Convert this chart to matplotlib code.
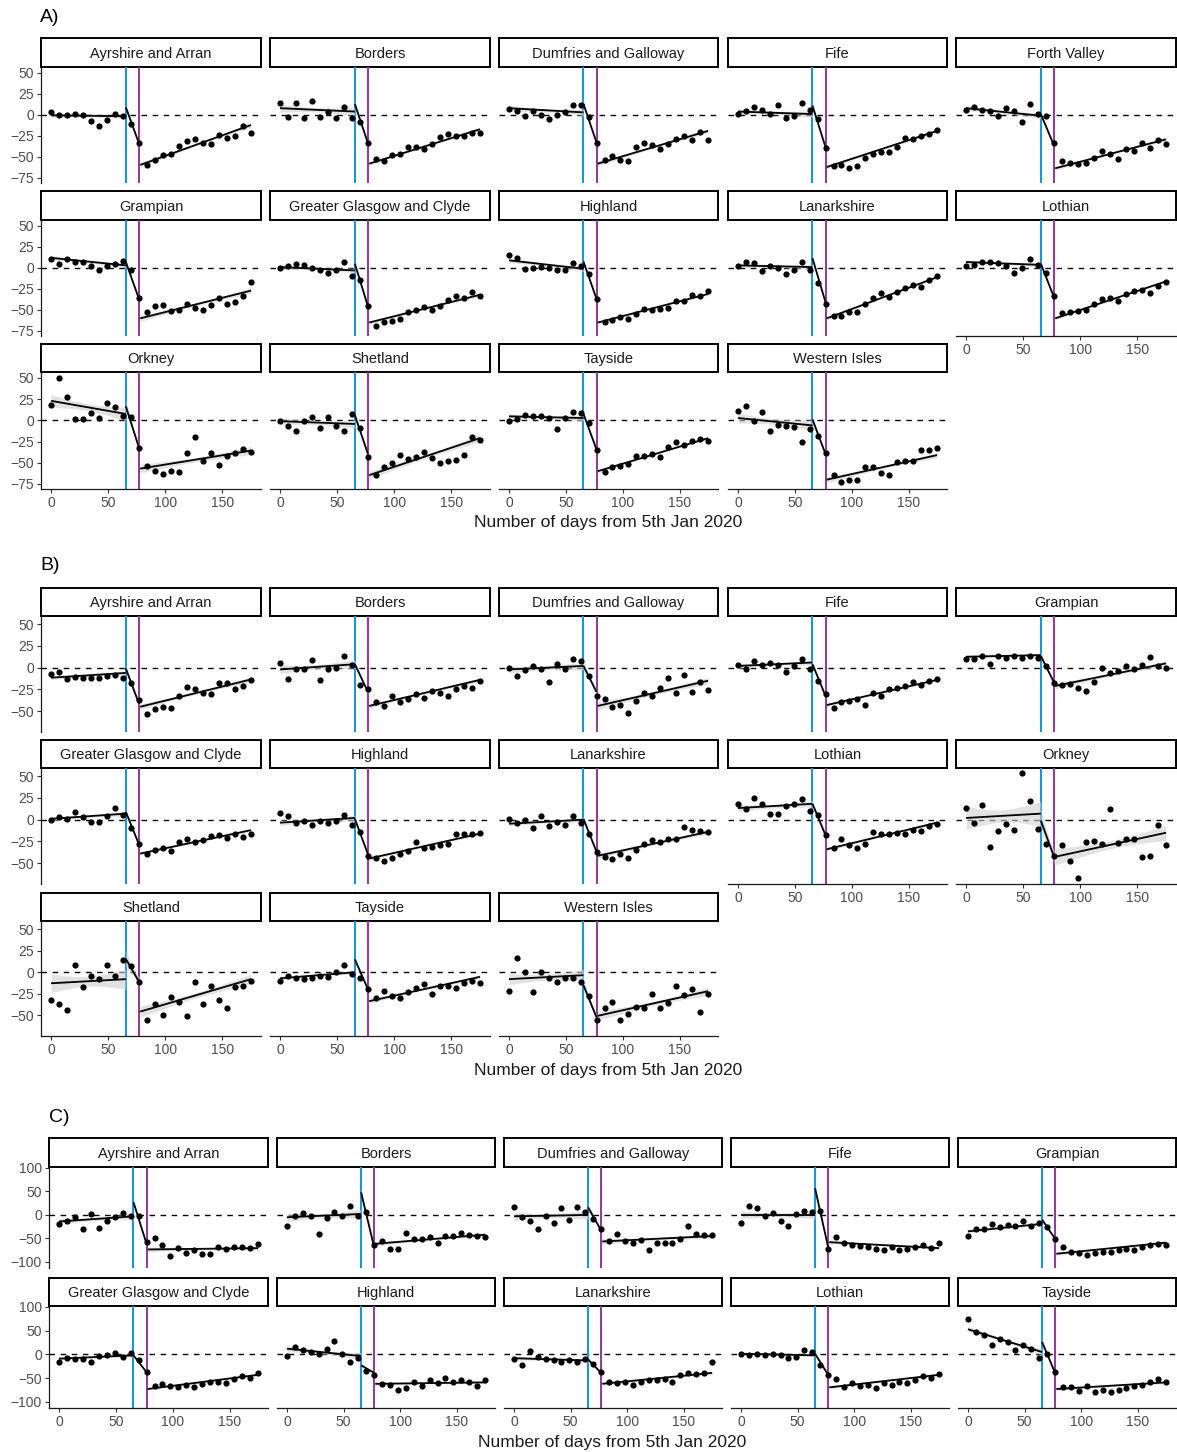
import numpy as np
import matplotlib
matplotlib.use("Agg")
import matplotlib.pyplot as plt

plt.rcParams['font.family'] = ['Liberation Sans', 'DejaVu Sans']

# ---------------- data ----------------
DAYS = [0, 7, 14, 21, 28, 35, 42, 49, 56, 63, 70, 77, 84, 91, 98, 105, 112,
        119, 126, 133, 140, 147, 154, 161, 168, 175]
BLUE_DAY = 65.5      # first event line
PURPLE_DAY = 77      # lockdown line
POST_START = 78
LAST_DAY = 175

X_TICKS = [0, 50, 100, 150]
Y_TICKS_A = [-75, -50, -25, 0, 25, 50]
Y_TICKS_B = [-50, -25, 0, 25, 50]
Y_TICKS_C = [-100, -50, 0, 50, 100]
X_LABEL = "Number of days from 5th Jan 2020"

NAMES_A = ["Ayrshire and Arran", "Borders", "Dumfries and Galloway", "Fife", "Forth Valley",
           "Grampian", "Greater Glasgow and Clyde", "Highland", "Lanarkshire", "Lothian",
           "Orkney", "Shetland", "Tayside", "Western Isles"]
NAMES_B = ["Ayrshire and Arran", "Borders", "Dumfries and Galloway", "Fife", "Grampian",
           "Greater Glasgow and Clyde", "Highland", "Lanarkshire", "Lothian", "Orkney",
           "Shetland", "Tayside", "Western Isles"]
NAMES_C = ["Ayrshire and Arran", "Borders", "Dumfries and Galloway", "Fife", "Grampian",
           "Greater Glasgow and Clyde", "Highland", "Lanarkshire", "Lothian", "Tayside"]

# ---- Section A observed values ----
A_AYRSHIRE = [3, 0, 0, 1.5, 0, -7, -13, -5.5, 1, -1, -11, -34, -59.5, -54, -47.6, -46, -36.5, -31, -28.5, -33, -34.5, -23.4, -27, -25.4, -13.5, -21.4]
A_BORDERS = [14.7, -2.4, 14.7, -4, 16, -2.4, 3, -4, 10, -4, -8, -34, -52, -55, -48, -46, -38, -38.5, -41, -35, -26.6, -23, -24.6, -25.4, -22, -21]
A_DUMFRIES = [7.1, 5.2, -0.8, 5.2, 0, -4.4, 0.4, 3.6, 12.3, 12.3, -2, -33, -54, -48.4, -53.6, -54.4, -38, -34, -36, -41, -34.5, -28.6, -25.4, -29.4, -20.6, -29.8]
A_FIFE = [1.6, 5.2, 9.5, 6.3, 0.8, 11.5, -4, -1.6, 14.7, 6.3, -4.8, -39.7, -60.3, -59.5, -62.7, -60.3, -50.8, -46.8, -44.4, -44.4, -38.5, -27, -28.6, -24.6, -22.6, -17.9]
A_FORTH = [6.3, 9.5, 5.6, 4.8, -0.8, 7.9, 4.8, -7.9, 13.5, 0.8, -0.8, -33.7, -54.8, -56.7, -58.7, -57, -50.8, -42.5, -46.8, -52.8, -40.5, -42.5, -33.3, -39.7, -29.4, -34.9]
A_GRAMPIAN = [10.7, 4.4, 10.7, 7.5, 7, 2.8, -2.4, 2.8, 4.4, 8.7, -2.8, -35.7, -52, -45.6, -44, -51, -50, -43, -48, -50, -44, -35.7, -43, -40, -33, -17]
A_GLASGOW = [0, 2.8, 4.4, 3.2, 0, -2.4, -5.6, -3, 7.5, -10, -14, -45.6, -68.6, -64.7, -63.5, -61, -52.8, -49.6, -46.8, -50, -44.8, -38, -33, -36, -29, -34]
A_HIGHLAND = [15, 12, -1.2, 0.4, 1.6, 0, -2.8, -2.4, 6, 2.8, -7.5, -37, -64, -62, -58, -61, -55, -49, -49.6, -49, -48, -39.7, -39.7, -32, -33.7, -28]
A_LANARK = [2.8, 7.5, 5.6, -3.2, 2.8, 0, -7.5, -2.4, 7.5, -2.4, -18, -43, -57.5, -56.7, -52, -52.8, -43, -35.7, -30, -35, -29, -24, -20, -23, -14, -9.5]
A_LOTHIAN = [2, 3.6, 7.5, 7.5, 6, 2.8, -6, 0, 10.7, 3.6, -6, -33, -53.6, -52, -50.8, -49.6, -42.9, -36.9, -35.3, -39.3, -31.3, -27, -25.8, -29.8, -21.8, -17]
A_ORKNEY = [18.4, 49.8, 27, 1.6, 1.6, 8.6, 2.7, 20, 15.7, 5.5, 4.3, -32.5, -53.3, -60, -63, -60, -61.5, -38.8, -20, -47.5, -38.8, -52.5, -41.5, -38.8, -34, -37.3]
A_SHETLAND = [-1.2, -7, -13, -1.2, 4.3, -9, 3.5, -7, -13, 7.5, -9, -42.7, -64, -55, -49.8, -41, -45.5, -43.5, -37.3, -44.3, -49.8, -47.5, -46.3, -41, -19.6, -22.7]
A_TAYSIDE = [-1.2, 2, 6.7, 5.5, 5.5, 2.7, -9.8, 2.7, 9.8, 8.6, -3, -34.5, -61, -55, -53.3, -51.4, -42.4, -42.4, -40, -42.7, -31.8, -25.5, -28.6, -24, -21.6, -24.7]
A_WESTERN = [11.4, 17.3, -0.4, 10.2, -13, -5, -7, -8.2, -25.5, -9.8, -18.8, -38.4, -65, -72.5, -69.8, -69.8, -54.9, -54.9, -62, -65, -49.4, -48.2, -48.2, -35, -35, -32.5]

# ---- Section A fitted segment ends: [pre@0, pre@blue, mid@blue, mid@purple, post@78, post@175] ----
FA_AYRSHIRE = [-0.5, -1.5, 9, -34, -59.5, -12]
FA_BORDERS = [8, 4, 13, -34, -58, -17]
FA_DUMFRIES = [8, 3, 13, -33, -58, -19]
FA_FIFE = [4, 1, 11, -38.5, -62, -19]
FA_FORTH = [8, -1, 1, -36.5, -63.5, -29]
FA_GRAMPIAN = [12, 3, 7, -37, -60, -27]
FA_GLASGOW = [1, -3, 5, -46, -65, -32]
FA_HIGHLAND = [9, -1, 7.5, -37, -65, -31]
FA_LANARK = [3, 1, 11.5, -41, -60, -11]
FA_LOTHIAN = [7, 3.6, 5, -35, -60, -16]
FA_ORKNEY = [23, 7.5, 16.5, -32.5, -57, -35.7]
FA_SHETLAND = [-1, -4.3, 6, -40, -64.7, -21]
FA_TAYSIDE = [4.7, 2.7, 7.5, -34.5, -60, -21]
FA_WESTERN = [2.7, -6, 1, -40, -70, -41]

# ---- Section B observed values ----
B_AYRSHIRE = [-7.7, -4.6, -13.5, -10.4, -11.5, -11.5, -11.5, -9.6, -8.8, -12.3, -17.3, -37.7, -53, -47.7, -45, -46, -32.7, -22.3, -25, -29, -30, -17.3, -17.3, -24.2, -21, -14.6]
B_BORDERS = [5, -12.6, -1, -2, 9, -14, -2, 0, 14, 3, -20, -24, -39.5, -44, -32.5, -40, -36, -30.6, -34.5, -27, -29, -32.5, -25, -21, -23, -15]
B_DUMFRIES = [0, -9, -3, 2, -2, -17, 4, -2, 10, 8, -10, -32.5, -35.6, -45, -43, -52, -38, -29.5, -32.6, -23, -11.5, -28.7, -8.8, -28, -17, -25.7]
B_FIFE = [2.7, -2, 7.7, 2.7, 5, 2.7, -5, 2, 10.3, -2, -15, -30.6, -46, -40, -38, -36, -43, -29.5, -32.6, -24, -23, -21, -17, -20, -15, -13.4]
B_GRAMPIAN = [10.3, 9.6, 14, 3.8, 13.4, 11.5, 13.4, 11.5, 13.4, 11.5, 2, -18, -20, -19, -23, -27, -17, 0, -6.5, -3.8, 2, -1, 2.7, 12.6, 2, 0]
B_GLASGOW = [0, 3, 1, 8.8, 3, -2.7, -2.7, 4, 13.4, 5, -10, -28, -39, -35, -33, -36, -25.6, -22.5, -26, -23.7, -18.7, -18, -21, -16, -20, -16]
B_HIGHLAND = [7.6, 3.8, -3.4, -2, -5.7, -2, -3.4, -1, 5, -5.7, -14, -41.6, -44, -47.7, -44, -40, -36, -25.6, -33, -31, -29, -27.5, -16, -17, -16, -15]
B_LANARK = [1, -3.4, 0, -10, 4, -7, -2.7, -5.7, 4, -3.4, -16, -37, -42.7, -45.4, -40, -44, -35, -27.5, -23.7, -25.6, -22.5, -21.8, -8.4, -12, -13.4, -14]
B_LOTHIAN = [18.3, 12.6, 24.8, 18.3, 6.9, 6.9, 15.6, 18.3, 23.3, 9.5, 5, -18, -33, -22.5, -29.4, -33, -27.5, -14, -17, -16, -15, -16, -12, -13.4, -7, -4.6]
B_ORKNEY = [13.4, -3.4, 17, -31, -13.4, -4.6, -12, 53.4, 22, -10.3, -27.5, -41.6, -29.4, -47.7, -67.6, -25.6, -24.8, -27.5, 11.8, -26.3, -21.8, -22.5, -42.7, -41.6, -5.7, -28.6]
B_SHETLAND = [-31.7, -37.4, -44, 8, -16.6, -4, -8, 8.7, -4, 14.7, 7, -11.7, -56, -37.4, -49.4, -29, -34.3, -50.6, -11.7, -36.6, -15.5, -31.7, -41, -16.6, -15.5, -10.2]
B_TAYSIDE = [-10, -4, -7, -8, -6.4, -4, -5.3, 0, 8, -2.6, -6.4, -19, -30, -22, -28, -30, -23, -17.7, -14, -25, -15.5, -15.5, -17.7, -12.8, -10, -12.8]
B_WESTERN = [-22, 16, 0, -23, 0, -7, -11.7, -7, -7, -11.7, -28, -55.5, -42, -34.3, -55.5, -48.7, -40, -42, -25, -41, -35.5, -15.5, -26, -19, -45.7, -25]

FB_AYRSHIRE = [-11.5, -6, -1, -41.5, -45, -13.5]
FB_BORDERS = [-2, 4, 4, -28, -44, -14]
FB_DUMFRIES = [-2, 2, 2, -28, -44, -15]
FB_FIFE = [2, 6, 4, -32.5, -43, -14]
FB_GRAMPIAN = [12.6, 14.5, 13.4, -17, -21, 5]
FB_GLASGOW = [1, 7, 9, -28.6, -39, -12]
FB_HIGHLAND = [-3.4, 2, 1, -40, -44.7, -16]
FB_LANARK = [-4.6, 0, 1, -37, -41.6, -14]
FB_LOTHIAN = [13.4, 18.3, 18.3, -18, -34, -3.4]
FB_ORKNEY = [2, 7, -1, -42.7, -42.7, -15]
FB_SHETLAND = [-12.8, -8, 15.5, -11, -45.7, -8]
FB_TAYSIDE = [-7, 0, 15, -20, -33.6, -5.3]
FB_WESTERN = [-8, -3.4, -15, -52.5, -50.6, -22]

# ---- Section C observed values ----
C_AYRSHIRE = [-19, -12, -5, -31, 2, -28, -14, -5, 4, -1.4, -3, -58, -49.5, -65, -87.6, -70.7, -80.6, -75.6, -84, -82.7, -68.5, -73.5, -68.5, -68.5, -70.7, -61.5]
C_BORDERS = [-24, -3, 4, -1.4, -40, -7, 7, -1.4, 20, -1.4, 7, -65, -56.5, -72, -72, -38, -52, -52, -47, -59, -45, -44, -38, -42, -44, -47]
C_DUMFRIES = [16, -5, -12, -31, -1.4, -17, 14, -10, 16, 7, -8.5, -30, -56.5, -40, -56.5, -59, -54, -75.6, -59, -59, -59, -51, -24, -40, -42, -42]
C_FIFE = [-17, 20, 14, -3, 4, -12, -24, 2, 9, 7, 9, -72, -47, -59, -63.6, -66, -68.5, -72, -75.6, -68.5, -75.6, -73.5, -68.5, -65, -70.7, -59]
C_GRAMPIAN = [-44, -30, -31, -19, -26, -21, -24, -14, -24, -17, -26, -52, -68.5, -79, -80.6, -86, -80.6, -78, -79, -75.6, -72, -75.6, -68.5, -63.6, -61.5, -63.6]
C_GLASGOW = [-15, -8, -10.6, -9, -16, -3.5, -2, 3.5, -5.7, 3.5, -12.8, -37.6, -66, -62, -66, -69.5, -64.5, -69.5, -62, -59, -57.4, -60, -51.8, -46, -50, -39]
C_HIGHLAND = [-3.5, 15.6, 8.5, 5, 1.4, 12, 27.7, 1.4, -16, -7.8, -34, -43, -62, -64.5, -74.5, -71.6, -59, -67, -55, -60, -50, -59, -55, -57.4, -67, -55]
C_LANARK = [-10.6, -23, 6.4, -5.7, -9, -12.8, -15, -12.8, -15, -10.6, -20, -37.6, -59, -60, -57.4, -64.5, -57.4, -53, -55, -51.8, -57.4, -43, -39, -41, -39, -16]
C_LOTHIAN = [1.4, -0.7, 1.4, -2, 1.4, -2, -7.8, -5.7, 8.5, 5, -22, -43, -51.8, -69.5, -60, -67, -64.5, -71.6, -60, -64.5, -59, -60, -53, -44.7, -50, -41]
C_TAYSIDE = [74.5, 47.5, 40.4, 19, 32, 26, 8.5, 19, 12, -7.8, 1.4, -37.6, -69.5, -69.5, -76.6, -67, -78.7, -74.5, -78.7, -74.5, -71.6, -67, -64.5, -59, -51.8, -59]

FC_AYRSHIRE = [-14, -3, 27, -61.5, -73.5, -70.7]
FC_BORDERS = [-5, 2, 48, -68.5, -61.5, -42]
FC_DUMFRIES = [-3, 0, 16, -33, -56.5, -45]
FC_FIFE = [0, 0, 56.5, -68.5, -58, -70.7]
FC_GRAMPIAN = [-35, -19, -10, -51, -82.7, -59]
FC_GLASGOW = [-9, -2, -2, -37.6, -73, -43]
FC_HIGHLAND = [12, -3.5, -23, -39, -62, -59]
FC_LANARK = [-8, -12.8, -10.6, -39, -62, -39]
FC_LOTHIAN = [1.4, -2, 1.4, -43, -69.5, -43]
FC_TAYSIDE = [53, 5, 26, -39, -73, -59]

SERIES_A = [A_AYRSHIRE, A_BORDERS, A_DUMFRIES, A_FIFE, A_FORTH, A_GRAMPIAN, A_GLASGOW,
            A_HIGHLAND, A_LANARK, A_LOTHIAN, A_ORKNEY, A_SHETLAND, A_TAYSIDE, A_WESTERN]
FITS_A = [FA_AYRSHIRE, FA_BORDERS, FA_DUMFRIES, FA_FIFE, FA_FORTH, FA_GRAMPIAN, FA_GLASGOW,
          FA_HIGHLAND, FA_LANARK, FA_LOTHIAN, FA_ORKNEY, FA_SHETLAND, FA_TAYSIDE, FA_WESTERN]
SERIES_B = [B_AYRSHIRE, B_BORDERS, B_DUMFRIES, B_FIFE, B_GRAMPIAN, B_GLASGOW, B_HIGHLAND,
            B_LANARK, B_LOTHIAN, B_ORKNEY, B_SHETLAND, B_TAYSIDE, B_WESTERN]
FITS_B = [FB_AYRSHIRE, FB_BORDERS, FB_DUMFRIES, FB_FIFE, FB_GRAMPIAN, FB_GLASGOW, FB_HIGHLAND,
          FB_LANARK, FB_LOTHIAN, FB_ORKNEY, FB_SHETLAND, FB_TAYSIDE, FB_WESTERN]
SERIES_C = [C_AYRSHIRE, C_BORDERS, C_DUMFRIES, C_FIFE, C_GRAMPIAN, C_GLASGOW, C_HIGHLAND,
            C_LANARK, C_LOTHIAN, C_TAYSIDE]
FITS_C = [FC_AYRSHIRE, FC_BORDERS, FC_DUMFRIES, FC_FIFE, FC_GRAMPIAN, FC_GLASGOW, FC_HIGHLAND,
          FC_LANARK, FC_LOTHIAN, FC_TAYSIDE]

# ---------------- layout (pixels) ----------------
W, H = 1177, 1452
fig = plt.figure(figsize=(W / 100, H / 100), dpi=100)
fig.patch.set_facecolor('white')

BLUE = '#1A96D4'
PURPLE = '#8E3F97'
GREY_TXT = '#4D4D4D'
XLIM = (-8.75, 183.75)

COLS_AB = [(41, 261), (270, 490), (499, 718), (728, 947), (956, 1176)]
COLS_C = [(49, 268), (277, 495), (504, 722), (731, 949), (958, 1176)]

SECTIONS = [
    dict(label="A)", label_xy=(40, 18), names=NAMES_A, series=SERIES_A, fits=FITS_A,
         cols=COLS_AB, rows=[(38, 67, 183), (191, 220, 336), (344, 372, 489)],
         ylim=(-81, 57), yticks=Y_TICKS_A, xlabel_xy=(608, 523)),
    dict(label="B)", label_xy=(40, 566), names=NAMES_B, series=SERIES_B, fits=FITS_B,
         cols=COLS_AB, rows=[(588, 616, 732), (740, 768, 884), (893, 921, 1036)],
         ylim=(-74, 59.5), yticks=Y_TICKS_B, xlabel_xy=(608, 1071)),
    dict(label="C)", label_xy=(49, 1118), names=NAMES_C, series=SERIES_C, fits=FITS_C,
         cols=COLS_C, rows=[(1138, 1167, 1268), (1278, 1306, 1408)],
         ylim=(-113, 102), yticks=Y_TICKS_C, xlabel_xy=(612, 1443)),
]


def px_rect(x0, y0, x1, y1):
    return [x0 / W, 1 - y1 / H, (x1 - x0) / W, (y1 - y0) / H]


def band(xa, xb, ya, yb, xpts, ypts, scale, sigma=None):
    """Line between fitted ends plus an uncertainty band from the residuals."""
    xs = np.linspace(xa, xb, 60)
    ys = ya + (yb - ya) * (xs - xa) / (xb - xa)
    line_at = ya + (yb - ya) * (xpts - xa) / (xb - xa)
    n = len(xpts)
    if sigma is None:
        sigma = np.sqrt(np.sum((ypts - line_at) ** 2) / max(n - 2, 1))
    sxx = np.sum((xpts - xpts.mean()) ** 2)
    se = sigma * np.sqrt(1.0 / n + (xs - xpts.mean()) ** 2 / sxx)
    return xs, ys, scale * se, sigma


days = np.array(DAYS, dtype=float)
ncol = 5

for sec in SECTIONS:
    n = len(sec['names'])
    for i, (name, vals, fit) in enumerate(zip(sec['names'], sec['series'], sec['fits'])):
        r, c = divmod(i, ncol)
        x0, x1 = sec['cols'][c]
        st, sb, pb = sec['rows'][r]
        # strip
        sax = fig.add_axes(px_rect(x0, st, x1, sb))
        sax.set_xticks([]); sax.set_yticks([])
        sax.set_facecolor('white')
        for sp in sax.spines.values():
            sp.set_linewidth(1.4)
            sp.set_color('black')
        sax.text(0.5, 0.45, name, ha='center', va='center', fontsize=10.5,
                 color='#1A1A1A', transform=sax.transAxes)
        # panel
        ax = fig.add_axes(px_rect(x0, sb, x1, pb))
        ax.set_xlim(*XLIM)
        ax.set_ylim(*sec['ylim'])
        y = np.array(vals, dtype=float)

        ax.axhline(0, color='black', lw=1.0, ls=(0, (4, 4)), zorder=1)
        ax.axvline(BLUE_DAY, color=BLUE, lw=1.5, zorder=2)
        ax.axvline(PURPLE_DAY, color=PURPLE, lw=1.5, zorder=2)

        pre = days < BLUE_DAY
        mid = (days > BLUE_DAY) & (days <= PURPLE_DAY)
        post = days > PURPLE_DAY
        xs1, ys1, h1, s1 = band(0, BLUE_DAY, fit[0], fit[1], days[pre], y[pre], 0.9)
        xs3, ys3, h3, s3 = band(POST_START, LAST_DAY, fit[4], fit[5], days[post], y[post], 0.9)
        pooled = np.sqrt((s1 ** 2 + s3 ** 2) / 2)
        xs2, ys2, h2, _ = band(BLUE_DAY, PURPLE_DAY, fit[2], fit[3], days[mid], y[mid], 0.35,
                               sigma=pooled)
        for xs, ys, hw in [(xs1, ys1, h1), (xs2, ys2, h2), (xs3, ys3, h3)]:
            ax.fill_between(xs, ys - hw, ys + hw, color='#CFCFCF', alpha=0.6, lw=0, zorder=3)
            ax.plot(xs, ys, color='black', lw=1.3, zorder=4, solid_capstyle='butt')
        ax.scatter(days, y, s=20, color='black', zorder=5, linewidths=0)

        for sp in ['top', 'right']:
            ax.spines[sp].set_visible(False)
        show_y = (c == 0)
        show_x = (i + ncol >= n)
        ax.set_yticks(sec['yticks'])
        ax.set_xticks(X_TICKS)
        ax.tick_params(axis='both', length=3, width=0.8, color='#333333',
                       labelsize=10, labelcolor=GREY_TXT, pad=2)
        if show_y:
            ax.spines['left'].set_color('#1A1A1A')
            ax.spines['left'].set_linewidth(0.9)
        else:
            ax.spines['left'].set_visible(False)
            ax.tick_params(axis='y', left=False, labelleft=False)
        if show_x:
            ax.spines['bottom'].set_color('#1A1A1A')
            ax.spines['bottom'].set_linewidth(0.9)
        else:
            ax.spines['bottom'].set_visible(False)
            ax.tick_params(axis='x', bottom=False, labelbottom=False)
        ax.set_facecolor('none')

    lx, ly = sec['label_xy']
    fig.text(lx / W, 1 - ly / H, sec['label'], fontsize=14, ha='left', va='center')
    xx, xy = sec['xlabel_xy']
    fig.text(xx / W, 1 - xy / H, X_LABEL, fontsize=12.5, ha='center', va='center',
             color='#1A1A1A')

fig.savefig('out.png', dpi=100, facecolor='white')
